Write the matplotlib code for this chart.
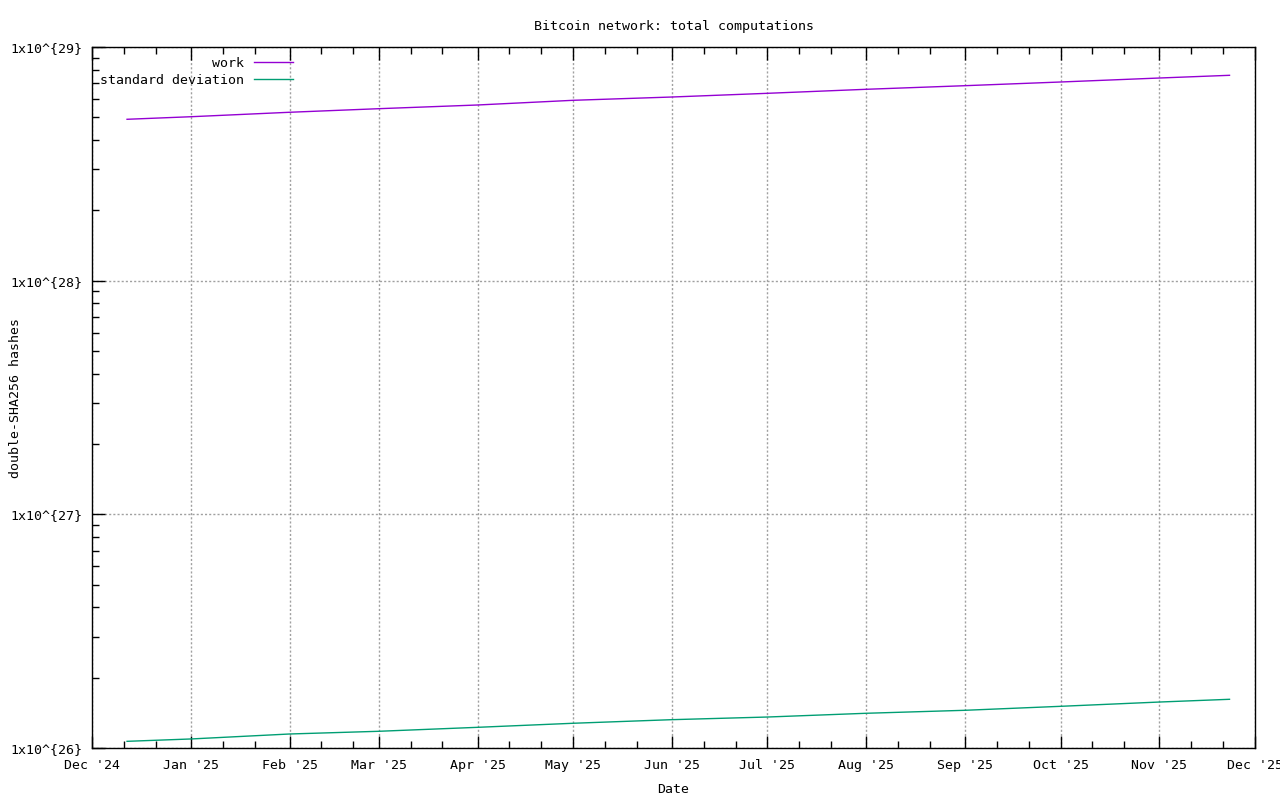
import datetime as dt
import numpy as np
import matplotlib
matplotlib.use("Agg")
import matplotlib.pyplot as plt
import matplotlib.dates as mdates
from matplotlib.ticker import FuncFormatter, LogLocator, NullFormatter

# readings (roughly one per month)
dates = [dt.date(2024, 12, 12), dt.date(2025, 1, 1), dt.date(2025, 2, 1), dt.date(2025, 3, 1),
         dt.date(2025, 4, 1), dt.date(2025, 5, 1), dt.date(2025, 6, 1), dt.date(2025, 7, 1),
         dt.date(2025, 8, 1), dt.date(2025, 9, 1), dt.date(2025, 10, 1), dt.date(2025, 11, 1),
         dt.date(2025, 11, 23)]
work = [4.905e28, 5.03e28, 5.256e28, 5.445e28, 5.647e28, 5.914e28, 6.109e28,
        6.336e28, 6.592e28, 6.83e28, 7.083e28, 7.367e28, 7.566e28]
std_dev = [1.068e26, 1.093e26, 1.148e26, 1.179e26, 1.226e26, 1.276e26, 1.322e26,
           1.357e26, 1.408e26, 1.45e26, 1.508e26, 1.573e26, 1.616e26]

plt.rcParams['font.family'] = ['DejaVu Sans Mono']
plt.rcParams['font.size'] = 9.5

fig = plt.figure(figsize=(12.8, 8), dpi=100)
ax = fig.add_axes([92 / 1280, 1 - 748 / 800, (1255 - 92) / 1280, (748 - 47) / 800])

ax.plot(dates, work, color='#9400d3', lw=1.0, label='work')
ax.plot(dates, std_dev, color='#009e73', lw=1.0, label='standard deviation')

ax.set_yscale('log')
ax.set_ylim(1e26, 1e29)
ax.set_xlim(dt.date(2024, 12, 1), dt.date(2025, 12, 1))

ax.yaxis.set_major_locator(LogLocator(base=10, numticks=10))
ax.yaxis.set_minor_locator(LogLocator(base=10, subs=np.arange(2, 10), numticks=10))
ax.yaxis.set_major_formatter(FuncFormatter(lambda v, p: "1x10^{%d}" % round(np.log10(v))))
ax.yaxis.set_minor_formatter(NullFormatter())

ax.xaxis.set_major_locator(mdates.MonthLocator())
ax.xaxis.set_minor_locator(mdates.DayLocator(bymonthday=[11, 21]))
ax.xaxis.set_major_formatter(mdates.DateFormatter("%b '%y"))

ax.tick_params(which='both', direction='in', top=True, right=False, colors='black')
ax.tick_params(which='major', length=9, width=1, pad=8)
ax.tick_params(which='minor', length=5, width=1)
ax.tick_params(axis='y', which='major', pad=7)

for s in ax.spines.values():
    s.set_linewidth(1)
    s.set_color('black')

ax.grid(True, which='major', color='#a0a0a0', lw=1.0, dashes=(1.5, 1.5))

ax.set_title("Bitcoin network: total computations", fontsize=9.5, pad=12)
ax.set_xlabel("Date", labelpad=8)
ax.set_ylabel("double-SHA256 hashes")
ax.yaxis.set_label_coords(-70 / 1163, 0.5)

ax.legend(loc='upper left', bbox_to_anchor=(100 / 1280, 1 - 57 / 800),
          bbox_transform=fig.transFigure, frameon=False, markerfirst=False,
          handlelength=3.0, handletextpad=0.75, borderpad=0, borderaxespad=0,
          labelspacing=0.28)

fig.savefig("out.png", dpi=100)
